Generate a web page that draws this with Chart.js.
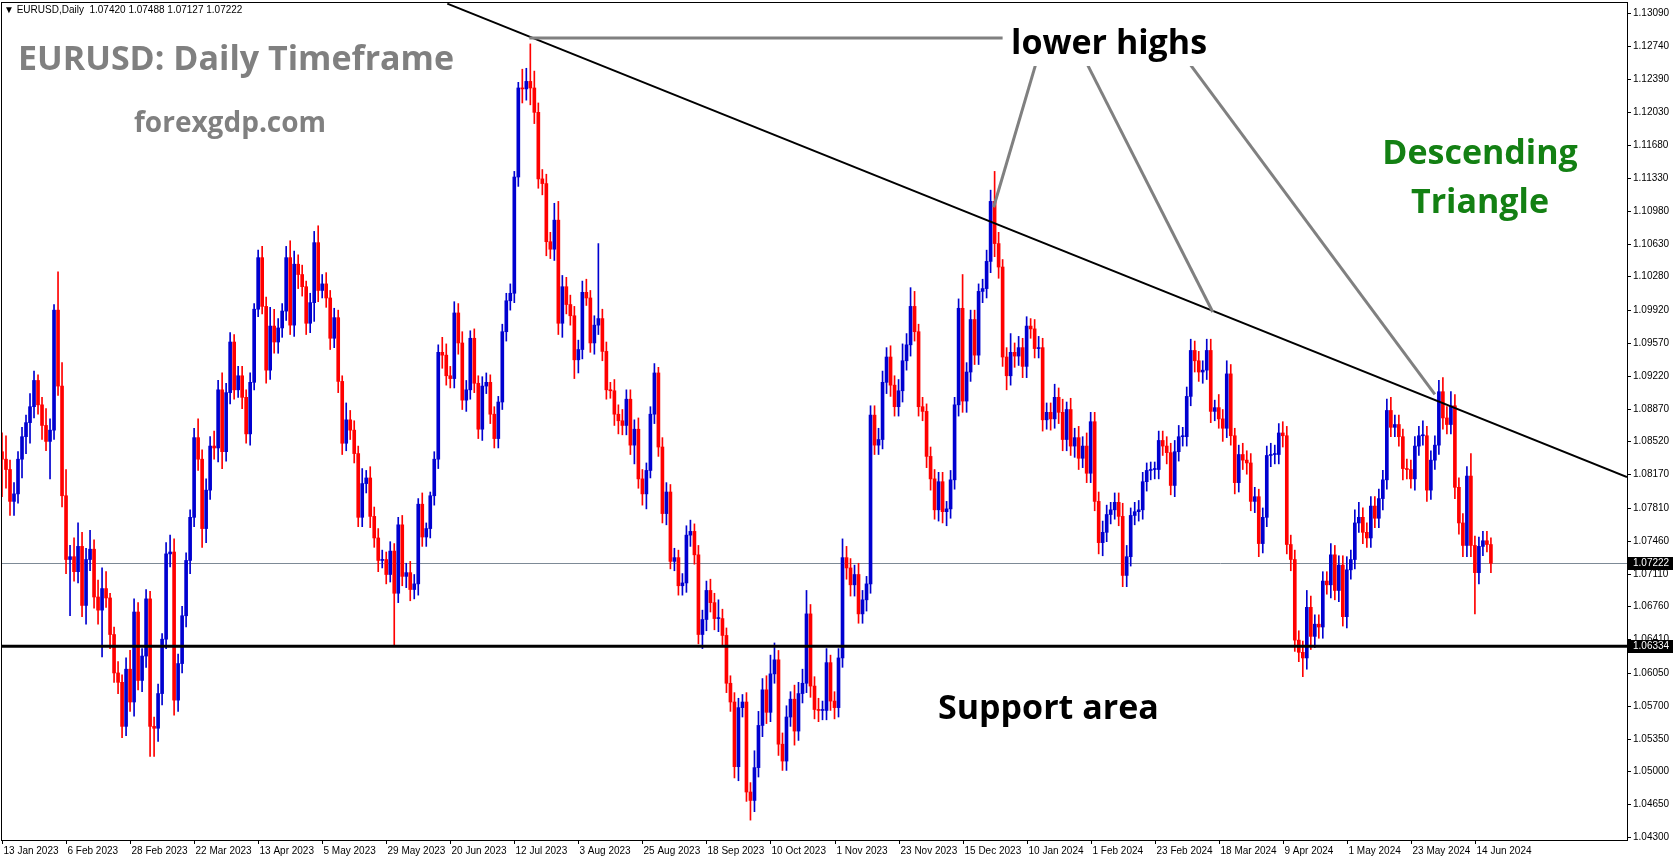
<!DOCTYPE html>
<html>
<head>
<meta charset="utf-8">
<script src="https://cdn.jsdelivr.net/npm/chart.js@4"></script>
<style>
  html, body { margin: 0; padding: 0; background: #fff; }
  canvas { display: block; }
</style>
</head>
<body>
<canvas id="chart" width="1673" height="861"></canvas>
<script>
// EURUSD daily, 13 Jan 2023 .. 20 Jun 2024
const firstOpen = 1.0841;
const closes = [
  1.0833,1.0822,1.0788,1.0796,1.0833,1.0857,1.0872,1.0889,1.0917,1.0891,1.0869,1.0852,1.0864,1.0992,1.0911,1.0794,1.0726,1.0729,1.0713,1.0740,
  1.0677,1.0726,1.0737,1.0686,1.0672,1.0695,1.0685,1.0646,1.0605,1.0595,1.0548,1.0609,1.0574,1.0670,1.0597,1.0623,1.0684,1.0548,1.0546,1.0583,
  1.0641,1.0732,1.0734,1.0576,1.0615,1.0666,1.0725,1.0771,1.0856,1.0833,1.0759,1.0800,1.0847,1.0845,1.0907,1.0841,1.0904,1.0958,1.0907,1.0922,
  1.0899,1.0860,1.0915,1.0993,1.1048,1.0996,1.0928,1.0975,1.0958,1.0973,1.0991,1.1048,1.0976,1.1041,1.1030,1.1017,1.0978,1.1000,1.1064,1.1013,
  1.1020,1.1005,1.0962,1.0984,1.0916,1.0850,1.0875,1.0864,1.0839,1.0771,1.0807,1.0813,1.0772,1.0749,1.0725,1.0726,1.0710,1.0735,1.0690,1.0763,
  1.0708,1.0712,1.0694,1.0700,1.0785,1.0750,1.0759,1.0794,1.0833,1.0947,1.0944,1.0922,1.0919,1.0989,1.0957,1.0896,1.0907,1.0962,1.0914,1.0865,
  1.0911,1.0915,1.0881,1.0855,1.0894,1.0969,1.1002,1.1010,1.1134,1.1229,1.1228,1.1236,1.1229,1.1203,1.1132,1.1127,1.1065,1.1057,1.1088,1.0978,
  1.1017,1.0998,1.0986,1.0939,1.0950,1.1011,1.1005,1.0957,1.0976,1.0983,1.0948,1.0907,1.0906,1.0881,1.0874,1.0869,1.0897,1.0848,1.0865,1.0812,
  1.0796,1.0821,1.0881,1.0925,1.0846,1.0775,1.0798,1.0724,1.0728,1.0698,1.0701,1.0752,1.0756,1.0731,1.0646,1.0662,1.0693,1.0680,1.0663,1.0663,
  1.0645,1.0594,1.0574,1.0505,1.0568,1.0574,1.0478,1.0469,1.0504,1.0549,1.0587,1.0563,1.0604,1.0619,1.0529,1.0511,1.0558,1.0577,1.0543,1.0583,
  1.0594,1.0668,1.0591,1.0566,1.0565,1.0565,1.0616,1.0575,1.0568,1.0621,1.0728,1.0717,1.0699,1.0710,1.0668,1.0683,1.0700,1.0880,1.0848,1.0854,
  1.0915,1.0942,1.0912,1.0889,1.0906,1.0938,1.0955,1.0996,1.0969,1.0889,1.0884,1.0836,1.0812,1.0779,1.0809,1.0777,1.0780,1.0811,1.0891,1.0994,
  1.0895,1.0926,1.0982,1.0944,1.1012,1.1015,1.1044,1.1108,1.1063,1.1038,1.0942,1.0922,1.0947,1.0943,1.0952,1.0932,1.0975,1.0972,1.0951,1.0952,
  1.0875,1.0883,1.0876,1.0899,1.0883,1.0854,1.0886,1.0847,1.0856,1.0834,1.0847,1.0818,1.0873,1.0788,1.0744,1.0755,1.0774,1.0779,1.0787,1.0772,
  1.0709,1.0729,1.0773,1.0777,1.0779,1.0809,1.0821,1.0822,1.0822,1.0853,1.0847,1.0840,1.0805,1.0841,1.0857,1.0857,1.0900,1.0949,1.0938,1.0926,
  1.0928,1.0949,1.0884,1.0888,1.0876,1.0866,1.0924,1.0858,1.0808,1.0838,1.0832,1.0829,1.0788,1.0793,1.0743,1.0771,1.0837,1.0838,1.0838,1.0861,
  1.0858,1.0742,1.0726,1.0640,1.0627,1.0621,1.0675,1.0644,1.0657,1.0654,1.0703,1.0699,1.0731,1.0693,1.0720,1.0665,1.0715,1.0726,1.0765,1.0771,
  1.0755,1.0749,1.0783,1.0770,1.0791,1.0811,1.0885,1.0867,1.0870,1.0857,1.0823,1.0822,1.0812,1.0847,1.0858,1.0858,1.0800,1.0832,1.0848,1.0905,
  1.0877,1.0870,1.0890,1.0803,1.0765,1.0741,1.0815,1.0741,1.0712,1.0740,1.0746,1.0742,1.0722
];
// wick lengths in pips beyond the body
const wickUp = [
  20,25,10,12,8,10,8,14,10,6,8,18,12,6,41,25,28,12,20,25,
  15,12,20,10,18,22,18,5,8,12,8,12,20,14,10,8,10,8,10,10,
  6,12,18,14,10,10,8,8,10,20,10,12,10,16,10,18,10,10,8,10,
  10,8,10,6,8,12,10,20,18,10,8,12,18,14,10,10,6,10,12,18,
  10,12,8,10,8,6,18,10,10,8,16,8,12,10,10,10,8,10,8,8,
  10,10,12,10,6,12,6,4,8,8,16,12,10,12,10,12,10,8,10,8,
  10,10,8,8,6,8,8,10,6,6,20,14,40,18,10,10,10,10,18,20,
  12,10,10,10,10,12,14,8,10,80,10,10,8,12,10,12,10,10,10,12,
  10,8,8,10,6,10,10,8,10,8,10,10,12,8,10,10,10,12,10,20,
  10,8,8,10,10,8,10,10,18,15,12,15,20,18,10,12,12,8,15,12,
  15,25,10,10,12,10,15,8,10,10,20,12,10,10,12,10,8,10,10,12,
  12,10,12,10,12,18,12,20,16,8,10,8,10,10,10,10,8,10,8,10,
  36,10,10,10,8,10,12,12,32,12,8,10,20,10,12,10,10,8,10,12,
  10,10,10,14,10,14,8,12,10,12,10,14,10,10,10,12,10,8,10,10,
  14,12,8,10,10,10,8,8,8,10,10,10,10,12,12,10,10,12,10,10,
  10,12,12,8,14,10,14,10,8,10,12,10,10,10,8,10,10,12,10,10,
  12,10,10,10,10,12,18,12,10,10,10,10,12,10,10,10,14,10,14,16,
  10,10,10,10,10,10,12,14,10,10,8,10,10,10,10,16,10,10,10,12,
  15,12,15,12,10,10,10,24,10,10,10,10,7
];
const wickDn = [
  40,20,15,15,10,20,18,22,12,10,15,10,40,10,10,12,15,60,10,12,
  12,20,12,12,15,50,10,15,10,12,12,10,10,15,10,12,12,32,30,14,
  12,10,14,16,12,10,12,14,10,12,20,15,10,12,15,18,10,12,10,8,
  12,10,12,8,8,8,14,10,12,12,10,10,10,12,15,10,12,10,20,12,
  8,10,12,10,12,12,8,10,10,10,10,10,12,10,12,8,10,8,55,10,
  10,12,12,10,12,10,10,10,10,10,14,10,10,10,12,10,12,10,10,10,
  12,8,10,10,10,8,10,10,10,10,15,12,18,12,10,12,15,10,12,12,
  15,10,10,20,14,10,8,10,12,10,10,10,8,12,14,10,10,10,20,10,
  12,16,8,10,10,10,12,8,10,10,10,10,12,10,10,15,12,10,12,14,
  12,10,10,12,15,10,10,21,12,10,12,12,10,10,12,10,10,10,15,10,
  10,10,12,10,12,10,10,10,12,10,10,12,12,12,10,10,12,10,10,10,
  10,12,12,10,10,12,10,12,10,10,10,12,12,10,12,12,15,10,10,12,
  12,12,10,10,10,12,10,12,14,12,10,15,10,12,10,12,12,10,10,10,
  12,10,12,10,12,12,12,10,12,12,10,10,10,10,12,14,10,10,10,10,
  12,12,10,10,10,10,10,10,10,10,10,12,10,12,10,10,10,10,12,10,
  12,10,12,10,10,14,10,10,12,10,10,12,10,12,14,10,10,12,10,10,
  12,10,12,12,10,20,12,14,12,12,12,10,14,10,12,10,12,10,10,10,
  12,10,10,10,10,12,10,10,10,10,12,10,10,12,10,10,12,10,10,10,
  12,10,10,12,12,12,12,12,44,12,10,8,10
];
const dateLabels = ['13 Jan 2023','6 Feb 2023','28 Feb 2023','22 Mar 2023','13 Apr 2023','5 May 2023','29 May 2023',
  '20 Jun 2023','12 Jul 2023','3 Aug 2023','25 Aug 2023','18 Sep 2023','10 Oct 2023','1 Nov 2023','23 Nov 2023',
  '15 Dec 2023','10 Jan 2024','1 Feb 2024','23 Feb 2024','18 Mar 2024','9 Apr 2024','1 May 2024','23 May 2024','14 Jun 2024'];
const barsPerLabel = 16;
const priceTicks = [1.13090,1.12740,1.12390,1.12030,1.11680,1.11330,1.10980,1.10630,1.10280,1.09920,1.09570,1.09220,
  1.08870,1.08520,1.08170,1.07810,1.07460,1.07110,1.06760,1.06410,1.06050,1.05700,1.05350,1.05000,1.04650,1.04300];
const lastPrice = 1.07222;
const supportPrice = 1.06334;
const header = '\u25BC EURUSD,Daily  1.07420 1.07488 1.07127 1.07222';

const BLUE = '#0000d0', RED = '#ff0000';

const bodies = [], wicks = [], colors = [];
closes.forEach((c, i) => {
  const o = i === 0 ? firstOpen : closes[i - 1];
  const hi = Math.max(o, c) + wickUp[i] / 10000;
  const lo = Math.min(o, c) - wickDn[i] / 10000;
  bodies.push({x: i, y: [o, c]});
  wicks.push({x: i, y: [lo, hi]});
  colors.push(c >= o ? BLUE : RED);
});

// annotation anchors in data units [bar index, price]
const trendLine = [[111.25, 1.1319], [406, 1.0814]];
const pointers = [
  [[131.75, 1.12823], [250, 1.12823]],
  [[258.5, 1.12577], [247.75, 1.11018]],
  [[270.75, 1.12577], [302.5, 1.0990]],
  [[296.25, 1.12577], [358, 1.09021]]
];

const overlay = {
  id: 'overlay',
  beforeDatasetsDraw(chart) {
    const {ctx, chartArea: a, scales: {y}} = chart;
    ctx.save();
    ctx.strokeStyle = '#7d8a96';
    ctx.lineWidth = 1;
    const ly = Math.round(y.getPixelForValue(lastPrice)) + 0.5;
    ctx.beginPath(); ctx.moveTo(a.left, ly); ctx.lineTo(a.right, ly); ctx.stroke();
    ctx.restore();
  },
  afterDraw(chart) {
    const {ctx, chartArea: a, scales: {x, y}} = chart;
    const px = p => [x.getPixelForValue(p[0]), y.getPixelForValue(p[1])];
    ctx.save();
    ctx.beginPath(); ctx.rect(a.left, a.top, a.right - a.left, a.bottom - a.top); ctx.clip();

    // support line
    const sy = y.getPixelForValue(supportPrice);
    ctx.strokeStyle = '#000'; ctx.lineWidth = 3;
    ctx.beginPath(); ctx.moveTo(a.left, sy); ctx.lineTo(a.right, sy); ctx.stroke();

    // descending trend line
    ctx.lineWidth = 2;
    const p0 = px(trendLine[0]), p1 = px(trendLine[1]);
    ctx.beginPath(); ctx.moveTo(p0[0], p0[1]); ctx.lineTo(p1[0], p1[1]); ctx.stroke();

    // pointers
    ctx.strokeStyle = '#808080'; ctx.lineWidth = 3;
    pointers.forEach(seg => {
      const s = px(seg[0]), e = px(seg[1]);
      ctx.beginPath(); ctx.moveTo(s[0], s[1]); ctx.lineTo(e[0], e[1]); ctx.stroke();
    });

    // texts
    ctx.textBaseline = 'middle';
    ctx.fillStyle = '#fff';
    ctx.fillRect(1008, 26, 205, 40);
    ctx.fillStyle = '#000';
    ctx.font = 'bold 34px "Open Sans"';
    ctx.textAlign = 'left';
    ctx.fillText('lower highs', 1011, 44);
    ctx.fillText('Support area', 938, 709);
    ctx.fillStyle = '#808080';
    ctx.fillText('EURUSD: Daily Timeframe', 18, 60);
    ctx.font = 'bold 28px "Open Sans"';
    ctx.fillText('forexgdp.com', 134, 124);
    ctx.fillStyle = '#138013';
    ctx.font = 'bold 34px "Open Sans"';
    ctx.textAlign = 'center';
    ctx.fillText('Descending', 1480, 154);
    ctx.fillText('Triangle', 1480, 203);
    ctx.restore();

    // frame and axes
    ctx.save();
    ctx.strokeStyle = '#000'; ctx.lineWidth = 1;
    ctx.strokeRect(a.left + 0.5, a.top + 0.5, a.right - a.left, a.bottom - a.top);
    ctx.font = '10px "Liberation Sans"';
    ctx.fillStyle = '#000';
    ctx.textBaseline = 'middle';
    ctx.textAlign = 'left';
    priceTicks.forEach(v => {
      const ty = Math.round(y.getPixelForValue(v)) + 0.5;
      ctx.beginPath(); ctx.moveTo(a.right, ty); ctx.lineTo(a.right + 4, ty); ctx.stroke();
      ctx.fillText(v.toFixed(5), a.right + 6, ty);
    });
    [lastPrice, supportPrice].forEach(v => {
      const ty = Math.round(y.getPixelForValue(v));
      ctx.fillStyle = '#000';
      ctx.fillRect(a.right + 1, ty - 6, 46, 13);
      ctx.fillStyle = '#fff';
      ctx.fillText(v.toFixed(5), a.right + 6, ty + 0.5);
    });
    ctx.fillStyle = '#000';
    dateLabels.forEach((t, k) => {
      const tx = Math.round(x.getPixelForValue(k * barsPerLabel)) + 0.5;
      ctx.beginPath(); ctx.moveTo(tx, a.bottom); ctx.lineTo(tx, a.bottom + 4); ctx.stroke();
      ctx.fillText(t, tx + 1, a.bottom + 11);
    });
    ctx.fillText(header, 4, 10);
    ctx.restore();
  }
};

new Chart(document.getElementById('chart'), {
  type: 'bar',
  data: {
    datasets: [
      {data: wicks, backgroundColor: colors, barThickness: 1, grouped: false, order: 2},
      {data: bodies, backgroundColor: colors, barThickness: 3, grouped: false, minBarLength: 1, order: 1}
    ]
  },
  options: {
    responsive: false,
    animation: false,
    devicePixelRatio: 1,
    layout: {padding: {left: 1, top: 2, right: 46, bottom: 21}},
    scales: {
      x: {type: 'linear', display: false, offset: false, bounds: 'data', min: -0.25, max: 406},
      y: {type: 'linear', display: false, min: 1.04268, max: 1.13207}
    },
    plugins: {legend: {display: false}, tooltip: {enabled: false}},
    events: []
  },
  plugins: [overlay]
});
</script>
</body>
</html>
